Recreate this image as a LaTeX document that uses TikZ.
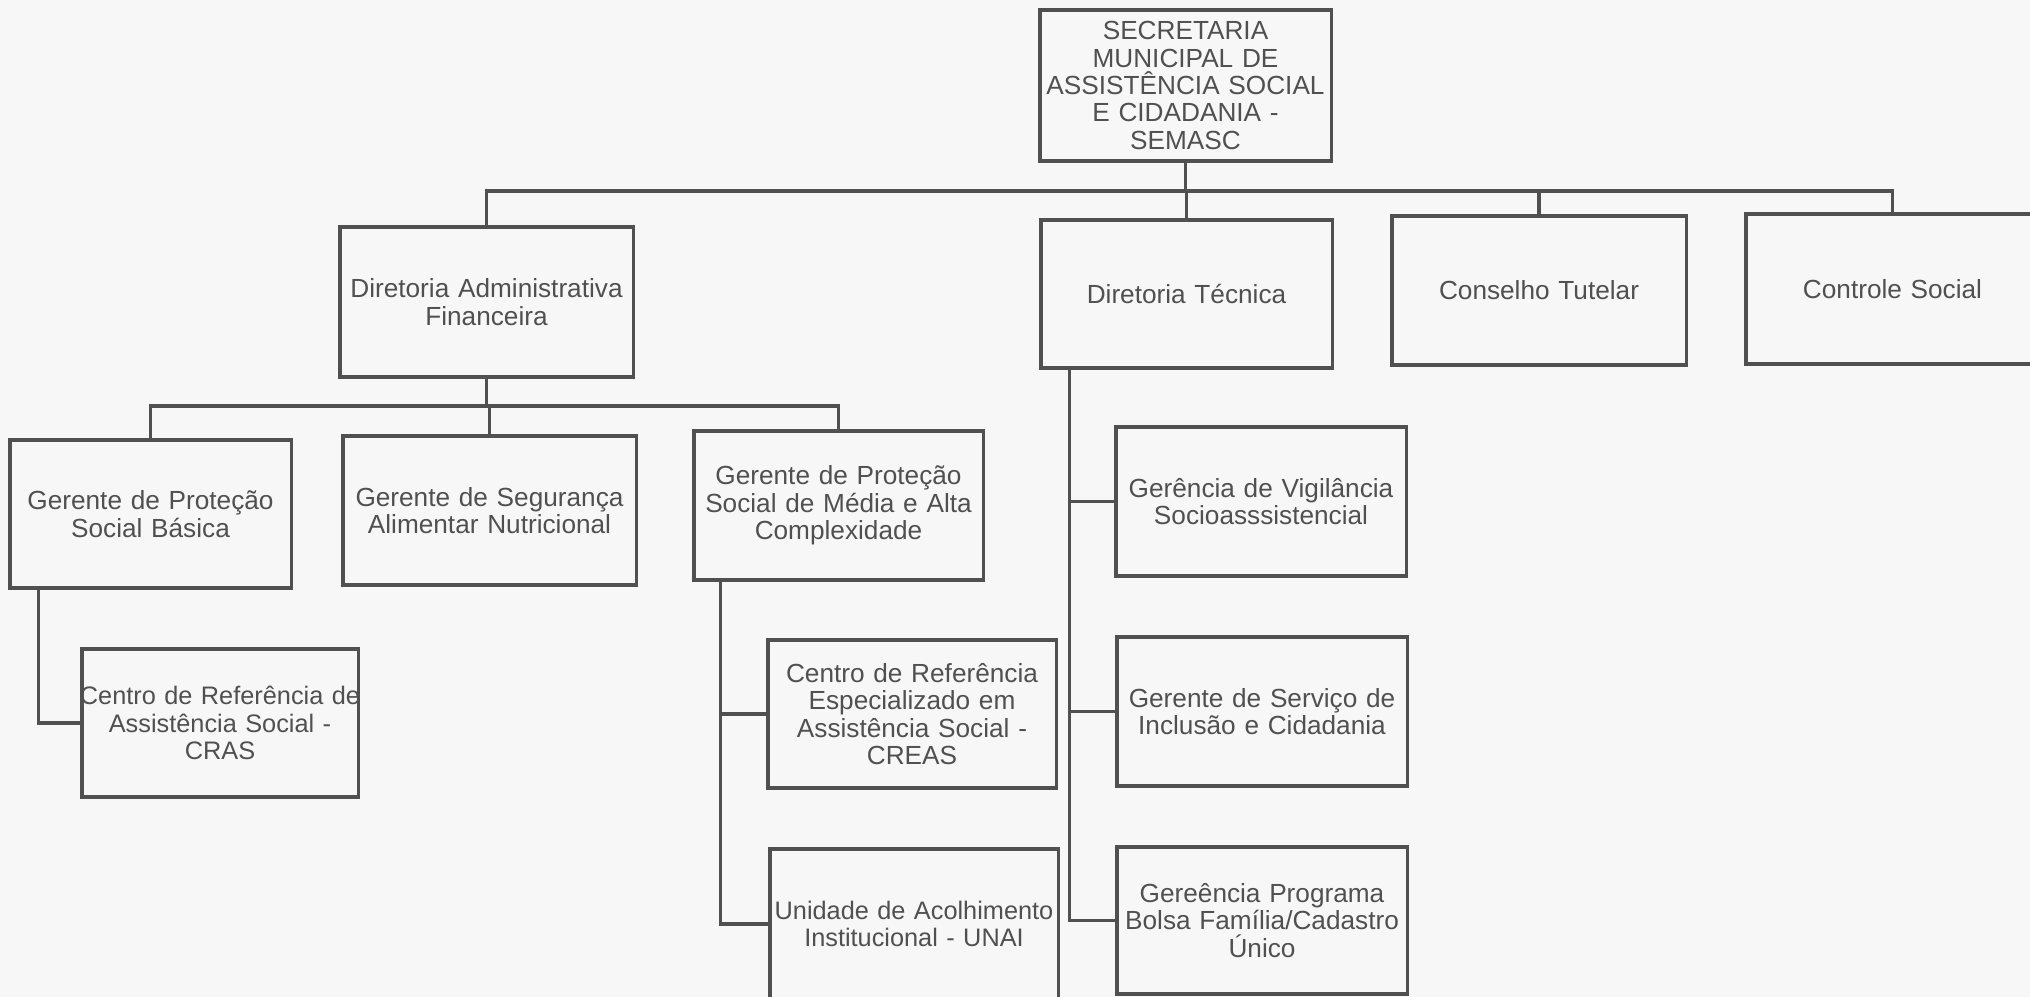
\documentclass[tikz,border=0pt]{standalone}
\usepackage{fontspec}
\setmainfont{Liberation Sans}
\usetikzlibrary{calc}

\definecolor{inkgray}{HTML}{505050}
\definecolor{paper}{HTML}{F7F7F7}

\begin{document}
\begin{tikzpicture}[x=0.01cm, y=-0.01cm]
	\tikzstyle{orgbox}=[rectangle, draw=inkgray, line width=0.9pt, text=inkgray,
		inner sep=0pt, align=center, text width=2.91cm, minimum height=1.49cm,
		font=\fontsize{7.45}{7.8}\selectfont]
	\tikzstyle{tight}=[font=\fontsize{7.2}{7.8}\selectfont]
	\tikzstyle{link}=[draw=inkgray, line width=0.9pt]

	\fill[paper] (0,0) rectangle (2030,997);
	\useasboundingbox (0,0) rectangle (2030,997);
	\clip (0,0) rectangle (2030,997);

	% secretaria e diretorias
	\node[orgbox, minimum height=1.51cm] (semasc) at (1185.5,85.5) {
		SECRETARIA\\ MUNICIPAL DE\\ ASSISTÊNCIA SOCIAL\\ E CIDADANIA -\\ SEMASC};
	\node[orgbox, text width=2.93cm, minimum height=1.50cm] (daf) at (486.5,302) {
		Diretoria Administrativa\\ Financeira};
	\node[orgbox, minimum height=1.48cm] (dtec) at (1186.5,294) {Diretoria Técnica};
	\node[orgbox, text width=2.94cm] (ctut) at (1539,290.5) {Conselho Tutelar};
	\node[orgbox, text width=2.93cm, minimum height=1.50cm] (csoc) at (1892.5,289) {
		Controle Social};

	% gerencias da diretoria administrativa
	\node[orgbox, text width=2.81cm, minimum height=1.48cm] (gpsb) at (150.5,514) {
		Gerente de Proteção\\ Social Básica};
	\node[orgbox, text width=2.93cm] (gsan) at (489.5,510.5) {
		Gerente de Segurança\\ Alimentar Nutricional};
	\node[orgbox, text width=2.89cm] (gpsm) at (838.5,505.5) {
		Gerente de Proteção\\ Social de Média e Alta\\ Complexidade};
	\node[orgbox, tight, text width=2.76cm, minimum height=1.48cm] (cras) at (220,723) {
		\makebox[\linewidth]{Centro de Referência de}\\ Assistência Social -\\ CRAS};
	\node[orgbox, text width=2.88cm, minimum height=1.48cm] (creas) at (912,714) {
		Centro de Referência\\ Especializado em\\ Assistência Social -\\ CREAS};
	\node[orgbox, tight, text width=2.88cm, minimum height=1.50cm] (unai) at (914,924) {
		\makebox[\linewidth]{Unidade de Acolhimento}\\ Institucional - UNAI};

	% gerencias da diretoria tecnica
	\node[orgbox, text width=2.90cm] (gvig) at (1261,501.5) {
		Gerência de Vigilância\\ Socioasssistencial};
	\node[orgbox, text width=2.90cm] (gsic) at (1262,711.5) {
		Gerente de Serviço de\\ Inclusão e Cidadania};
	\node[orgbox, text width=2.90cm, minimum height=1.47cm] (gpbf) at (1262,920.5) {
		Gereência Programa\\ Bolsa Família/Cadastro\\ Único};

	\coordinate (bus1) at (0,191);
	\coordinate (bus2) at (0,406);

	\draw[link] (semasc.south) -- (semasc.south |- bus1);
	\draw[link] (daf.north) -- (daf.north |- bus1) -- (csoc.north |- bus1) -- (csoc.north);
	\draw[link] (dtec.north) -- (dtec.north |- bus1);
	\draw[link] (ctut.north) -- (ctut.north |- bus1);

	\draw[link] (daf.south) -- (daf.south |- bus2);
	\draw[link] (gpsb.north) -- (gpsb.north |- bus2) -- (gpsm.north |- bus2) -- (gpsm.north);
	\draw[link] (gsan.north) -- (gsan.north |- bus2);

	\draw[link] ([xshift=0.30cm]gpsb.south west) |- (cras.west);
	\draw[link] ([xshift=0.28cm]gpsm.south west) |- (creas.west);
	\draw[link] ([xshift=0.28cm]gpsm.south west) |- (unai.west);

	\draw[link] ([xshift=0.30cm]dtec.south west) |- (gvig.west);
	\draw[link] ([xshift=0.30cm]dtec.south west) |- (gsic.west);
	\draw[link] ([xshift=0.30cm]dtec.south west) |- (gpbf.west);
\end{tikzpicture}
\end{document}
